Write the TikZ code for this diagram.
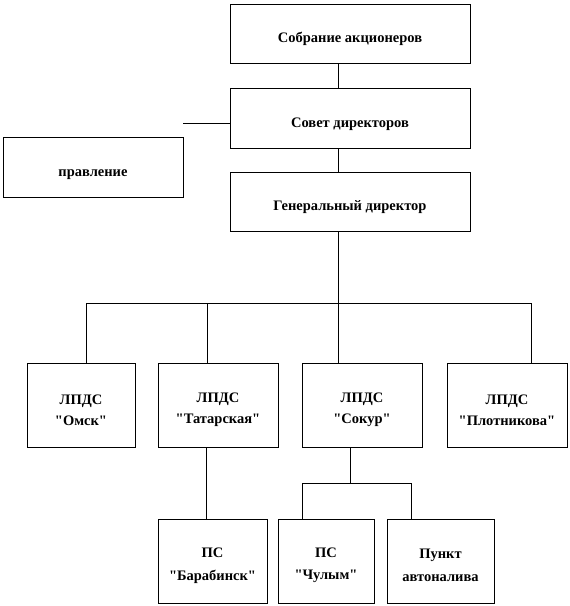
\documentclass[tikz,border=0pt]{standalone}
\usepackage{fontspec}
\setmainfont{Liberation Serif}[Ligatures=TeXOff]
\newcommand\upstrut[1]{\rule{0pt}{#1}}
\begin{document}
\begin{tikzpicture}[x=1pt,y=-1pt,
  box/.style={draw, line width=1pt, font=\bfseries\fontsize{14.5}{21}\selectfont, align=center, inner sep=0pt, outer sep=0pt, anchor=north west},
  lowbox/.style={box, font=\bfseries\fontsize{14.5}{22.5}\selectfont},
  conn/.style={line width=1pt}]
\useasboundingbox (0,0) rectangle (570,606);
\node[box, minimum width=240pt, minimum height=59pt] (sob) at (230,4) {\upstrut{22pt}Собрание акционеров};
\node[box, minimum width=240pt, minimum height=60pt] (sov) at (230,88) {\upstrut{22pt}Совет директоров};
\node[box, minimum width=240pt, minimum height=59pt] (gd) at (230,172) {\upstrut{22pt}Генеральный директор};
\node[box, minimum width=180pt, minimum height=60pt] (prav) at (3,137) {\upstrut{22pt}правление};
\node[box, minimum width=108pt, minimum height=84pt] (omsk) at (27,363) {\upstrut{20pt}ЛПДС\\"Омск"};
\node[box, minimum width=120pt, minimum height=84pt] (tat) at (158,363) {\upstrut{20pt}ЛПДС\\"Татарская"};
\node[box, minimum width=120pt, minimum height=84pt] (sok) at (302,363) {\upstrut{20pt}ЛПДС\\"Сокур"};
\node[box, minimum width=120pt, minimum height=84pt] (plot) at (447,363) {\upstrut{20pt}ЛПДС\\"Плотникова"};
\node[lowbox, minimum width=109pt, minimum height=84pt] (bar) at (158,519) {\upstrut{18.6pt}ПС\\"Барабинск"};
\node[lowbox, minimum width=96pt, minimum height=84pt] (chul) at (278,519) {\upstrut{18.6pt}ПС\\"Чулым"};
\node[lowbox, minimum width=107pt, minimum height=84pt] (punkt) at (387,519) {\upstrut{18.6pt}Пункт\\автоналива};
% coordinates
\coordinate (c1) at (338,0);
\coordinate (pl) at (183,123);
\coordinate (hub) at (338,303);
\coordinate (b1) at (86,303);
\coordinate (b2) at (207,303);
\coordinate (b4) at (531,303);
\coordinate (t1) at (206,0);
\coordinate (s1) at (350,483);
\coordinate (s2) at (302,483);
\coordinate (s3) at (411,483);
% connectors
\draw[conn] (c1 |- sob.south) -- (c1 |- sov.north);
\draw[conn] (c1 |- sov.south) -- (c1 |- gd.north);
\draw[conn] (pl) -- (pl -| sov.west);
\draw[conn] (c1 |- gd.south) -- (hub);
\draw[conn] (b1) -- (b4);
\draw[conn] (b1) -- (b1 |- omsk.north);
\draw[conn] (b2) -- (b2 |- tat.north);
\draw[conn] (hub) -- (hub |- sok.north);
\draw[conn] (b4) -- (b4 |- plot.north);
\draw[conn] (t1 |- tat.south) -- (t1 |- bar.north);
\draw[conn] (s1 |- sok.south) -- (s1);
\draw[conn] (s2) -- (s3);
\draw[conn] (s2) -- (s2 |- chul.north);
\draw[conn] (s3) -- (s3 |- punkt.north);
\end{tikzpicture}
\end{document}
